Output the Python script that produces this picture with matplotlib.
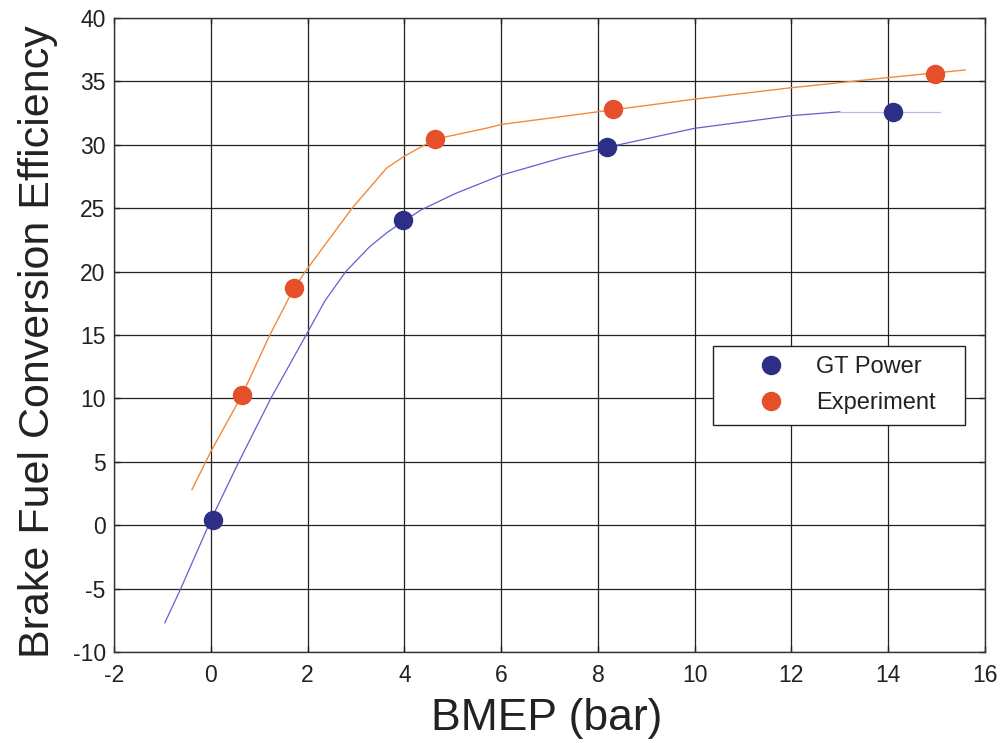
import matplotlib as mpl
mpl.use("Agg")
import matplotlib.pyplot as plt

mpl.rcParams.update({
    "font.family": ["Liberation Sans", "DejaVu Sans"],
    "axes.unicode_minus": False,
    "axes.linewidth": 1.0,
    "xtick.direction": "in", "ytick.direction": "in",
    "xtick.top": True, "ytick.right": True,
    "xtick.major.size": 4, "ytick.major.size": 4,
})

# simulated (GT Power) and measured points
gt_bmep = [0.05, 3.98, 8.19, 14.09]
gt_eff = [0.4, 24.1, 29.8, 32.6]
exp_bmep = [0.65, 1.72, 4.64, 8.32, 14.96]
exp_eff = [10.3, 18.7, 30.45, 32.8, 35.6]

# fitted trend lines
gt_fit_x = [-0.95, -0.62, 0.0, 0.58, 1.24, 1.97, 2.36, 2.79, 3.28, 3.65, 4.0, 4.34, 5.05, 6.0, 7.28, 8.19, 10.0, 12.0, 13.0]
gt_fit_y = [-7.7, -5.0, 0.4, 5.0, 10.0, 15.0, 17.7, 20.0, 21.95, 23.1, 24.0, 24.85, 26.15, 27.6, 29.0, 29.8, 31.3, 32.3, 32.6]
gt_tail_x = [13.0, 15.07]
gt_tail_y = [32.6, 32.6]
exp_fit_x = [-0.39, 0.0, 0.65, 1.22, 1.72, 1.99, 2.92, 3.63, 4.0, 4.64, 5.69, 6.0, 8.0, 10.0, 12.0, 14.0, 15.59]
exp_fit_y = [2.8, 5.8, 10.3, 15.0, 18.7, 20.2, 25.0, 28.15, 29.1, 30.45, 31.3, 31.6, 32.6, 33.6, 34.5, 35.3, 35.9]

NAVY = "#2d2e86"
RED = "#e5502b"

fig = plt.figure(figsize=(10.03, 7.43), dpi=100)
ax = fig.add_axes([0.1137, 0.1225, 0.8683, 0.8533])

ax.plot(gt_fit_x, gt_fit_y, color="#6060d0", lw=0.9, zorder=2)
ax.plot(gt_tail_x, gt_tail_y, color="#b8b8ea", lw=0.9, zorder=2)
ax.plot(exp_fit_x, exp_fit_y, color="#f28a3a", lw=1.0, zorder=2)
ax.plot(gt_bmep, gt_eff, "o", ms=13, color=NAVY, mec=NAVY, ls="none", zorder=3, label="GT Power")
ax.plot(exp_bmep, exp_eff, "o", ms=13, color=RED, mec=RED, ls="none", zorder=3, label="Experiment")

ax.set_xlim(-2, 16)
ax.set_ylim(-10, 40)
ax.set_xticks(range(-2, 17, 2))
ax.set_yticks(range(-10, 41, 5))
ax.grid(True, color="#222222", lw=0.9)
ax.set_axisbelow(True)
for s in ax.spines.values():
    s.set_color("#333333")
ax.tick_params(labelsize=16.5, colors="#222222", width=1.0)
ax.tick_params(axis="x", pad=9)
ax.tick_params(axis="y", pad=6)

ax.set_xlabel("BMEP (bar)", fontsize=32, color="#222222")
ax.set_ylabel("Brake Fuel Conversion Efficiency", fontsize=31, color="#222222")
ax.xaxis.set_label_coords(0.497, -0.072)
ax.yaxis.set_label_coords(-0.064, 0.49)

# legend box stretched over a fixed area, entries pushed in from the left
leg = ax.legend(loc="lower left", bbox_to_anchor=(0.688, 0.358, 0.289, 0.125), mode="expand",
                fontsize=17, fancybox=False, framealpha=1, edgecolor="#222222",
                handlelength=4.0, handletextpad=-0.1, borderpad=0.45, labelspacing=0.6,
                borderaxespad=0)
leg.get_frame().set_linewidth(1.0)
for t in leg.get_texts():
    t.set_color("#222222")

fig.savefig("out.png", dpi=100)
